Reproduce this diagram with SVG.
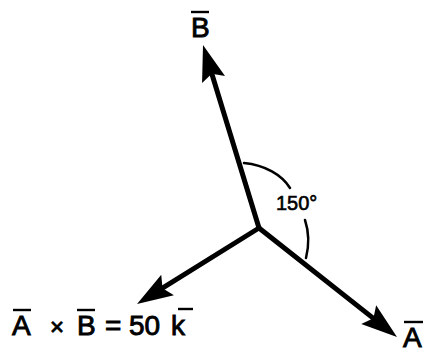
<svg xmlns="http://www.w3.org/2000/svg" width="430" height="352" viewBox="0 0 430 352">
<style>
.lbl{font-family:"Liberation Sans",Arial,sans-serif;font-size:28px;fill:#000;stroke:#000;stroke-width:0.9}
.ang{font-family:"Liberation Sans",Arial,sans-serif;font-size:20px;fill:#000;stroke:#000;stroke-width:0.6}
.bar{stroke:#000;stroke-width:2.4;fill:none}
.shaft{stroke:#000;stroke-width:5;fill:none;stroke-linecap:round;marker-end:url(#head)}
.arc{stroke:#000;stroke-width:2.5;fill:none;stroke-linecap:round}
</style>
<defs>
<marker id="head" markerUnits="userSpaceOnUse" viewBox="-10 -13 40 26" refX="0" refY="0" markerWidth="40" markerHeight="26" orient="auto">
<path d="M28,0 L-8,-12 L-2,0 L-8,12 Z" fill="#000"/>
</marker>
</defs>
<rect width="430" height="352" fill="#fff"/>
<g id="connectors">
<line class="shaft" x1="259" y1="228" x2="211.2" y2="71.8"/>
<line class="shaft" x1="259" y1="228" x2="375" y2="319.6"/>
<line class="shaft" x1="259" y1="228" x2="160.8" y2="289.2"/>
<path class="arc" d="M244,163 C265,165 282,175 290,188"/>
<path class="arc" d="M305,220 C309,232 309,246 306,258"/>
</g>
<g id="label-B">
<text class="lbl" x="191" y="37">B</text>
<line class="bar" x1="191" y1="12" x2="209" y2="12"/>
</g>
<g id="label-A">
<text class="lbl" x="403" y="347">A</text>
<line class="bar" x1="404" y1="322" x2="423" y2="322"/>
</g>
<g id="label-angle">
<text class="ang" x="276" y="210">150°</text>
</g>
<g id="label-AxB">
<text class="lbl" x="12" y="335">A</text>
<line class="bar" x1="13" y1="310" x2="31" y2="310"/>
<text class="lbl" x="50" y="335" style="font-size:24px">×</text>
<text class="lbl" x="77" y="335">B</text>
<line class="bar" x1="77" y1="310" x2="95" y2="310"/>
<text class="lbl" x="105" y="335">=</text>
<text class="lbl" x="129" y="335">50</text>
<text class="lbl" x="171" y="335">k</text>
<line class="bar" x1="178" y1="309" x2="193" y2="309"/>
</g>
</svg>
